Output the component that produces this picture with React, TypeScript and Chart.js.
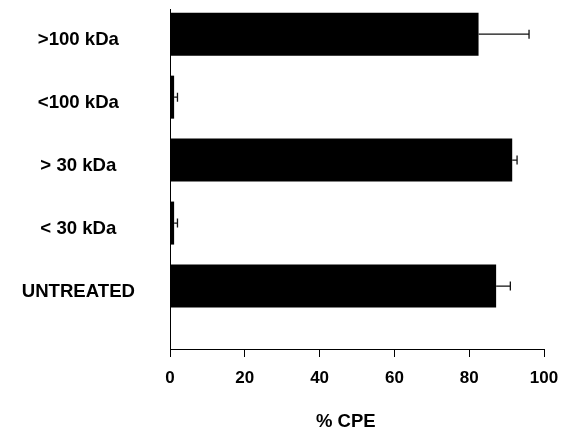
import React, { useEffect, useRef } from "react";
import { Chart, registerables } from "chart.js";

Chart.register(...registerables);

const categories = [">100 kDa", "<100 kDa", "> 30 kDa", "< 30 kDa", "UNTREATED"];
const cpeValues = [82.5, 1.1, 91.5, 1.1, 87.2];
const cpeErrors = [13.5, 0.9, 1.3, 0.9, 3.8];
const xTicks = [0, 20, 40, 60, 80, 100];
const xTitle = "% CPE";

const FONT = "Liberation Sans, Arial, sans-serif";

const errorBarPlugin = {
  id: "errorBars",
  afterDatasetsDraw(chart: any) {
    const ctx = chart.ctx;
    const xs = chart.scales.x;
    const ys = chart.scales.y;
    ctx.save();
    ctx.strokeStyle = "#111";
    ctx.lineWidth = 1.3;
    cpeValues.forEach((v, i) => {
      const x0 = xs.getPixelForValue(v);
      const x1 = xs.getPixelForValue(v + cpeErrors[i]);
      const y = ys.getPixelForValue(i);
      ctx.beginPath();
      ctx.moveTo(x0, y);
      ctx.lineTo(x1, y);
      ctx.moveTo(x1, y - 4.5);
      ctx.lineTo(x1, y + 4.5);
      ctx.stroke();
    });
    ctx.restore();
  },
};

const axisTitlePlugin = {
  id: "axisTitle",
  afterDraw(chart: any) {
    const ctx = chart.ctx;
    const xs = chart.scales.x;
    ctx.save();
    ctx.fillStyle = "#000";
    ctx.font = `bold 18.5px ${FONT}`;
    ctx.textAlign = "center";
    ctx.textBaseline = "middle";
    ctx.fillText(xTitle, xs.getPixelForValue(47), xs.bottom - 11);
    ctx.restore();
  },
};

export default function App() {
  const ref = useRef<HTMLCanvasElement>(null);
  useEffect(() => {
    document.body.style.margin = "0";
    const chart = new Chart(ref.current!, {
      type: "bar",
      data: {
        datasets: [
          {
            data: cpeValues.map((v, i) => ({ x: v, y: i })),
            backgroundColor: "#000",
            borderWidth: 0,
            barPercentage: 0.683,
            categoryPercentage: 1,
          },
        ],
      },
      options: {
        indexAxis: "y",
        animation: false,
        responsive: false,
        layout: { padding: { top: 9, right: 18, left: 0, bottom: 0 } },
        plugins: { legend: { display: false }, tooltip: { enabled: false } },
        scales: {
          x: {
            type: "linear",
            min: 0,
            max: 100,
            afterBuildTicks: (s: any) => {
              s.ticks = xTicks.map((v) => ({ value: v }));
            },
            afterFit: (s: any) => {
              s.height = 84;
              s.paddingLeft = 0;
              s.paddingRight = 0;
              s.paddingTop = 0;
              s.paddingBottom = 0;
            },
            grid: { drawOnChartArea: false, color: "#000", tickLength: 8, tickWidth: 1 },
            border: { display: true, color: "#000", width: 1 },
            ticks: {
              color: "#000",
              font: { family: FONT, weight: "bold", size: 17 },
              padding: 11,
              maxRotation: 0,
            },
          },
          y: {
            type: "linear",
            reverse: true,
            offset: false,
            min: -0.4,
            max: 5.0,
            afterBuildTicks: (s: any) => {
              s.ticks = categories.map((_, i) => ({ value: i }));
            },
            afterFit: (s: any) => {
              s.width = 170;
              s.paddingLeft = 0;
              s.paddingRight = 0;
              s.paddingTop = 0;
              s.paddingBottom = 0;
            },
            grid: { display: false, drawTicks: false },
            border: { display: true, color: "#000", width: 1 },
            ticks: {
              color: "#000",
              crossAlign: "center",
              padding: 35,
              labelOffset: 5.5,
              font: { family: FONT, weight: "bold", size: 18.6 },
              callback: (v: any) => categories[v as number] ?? "",
            },
          },
        },
      },
      plugins: [errorBarPlugin, axisTitlePlugin],
    } as any);
    return () => chart.destroy();
  }, []);
  return (
    <div style={{ width: 562, height: 433 }}>
      <canvas ref={ref} width={562} height={433} />
    </div>
  );
}
